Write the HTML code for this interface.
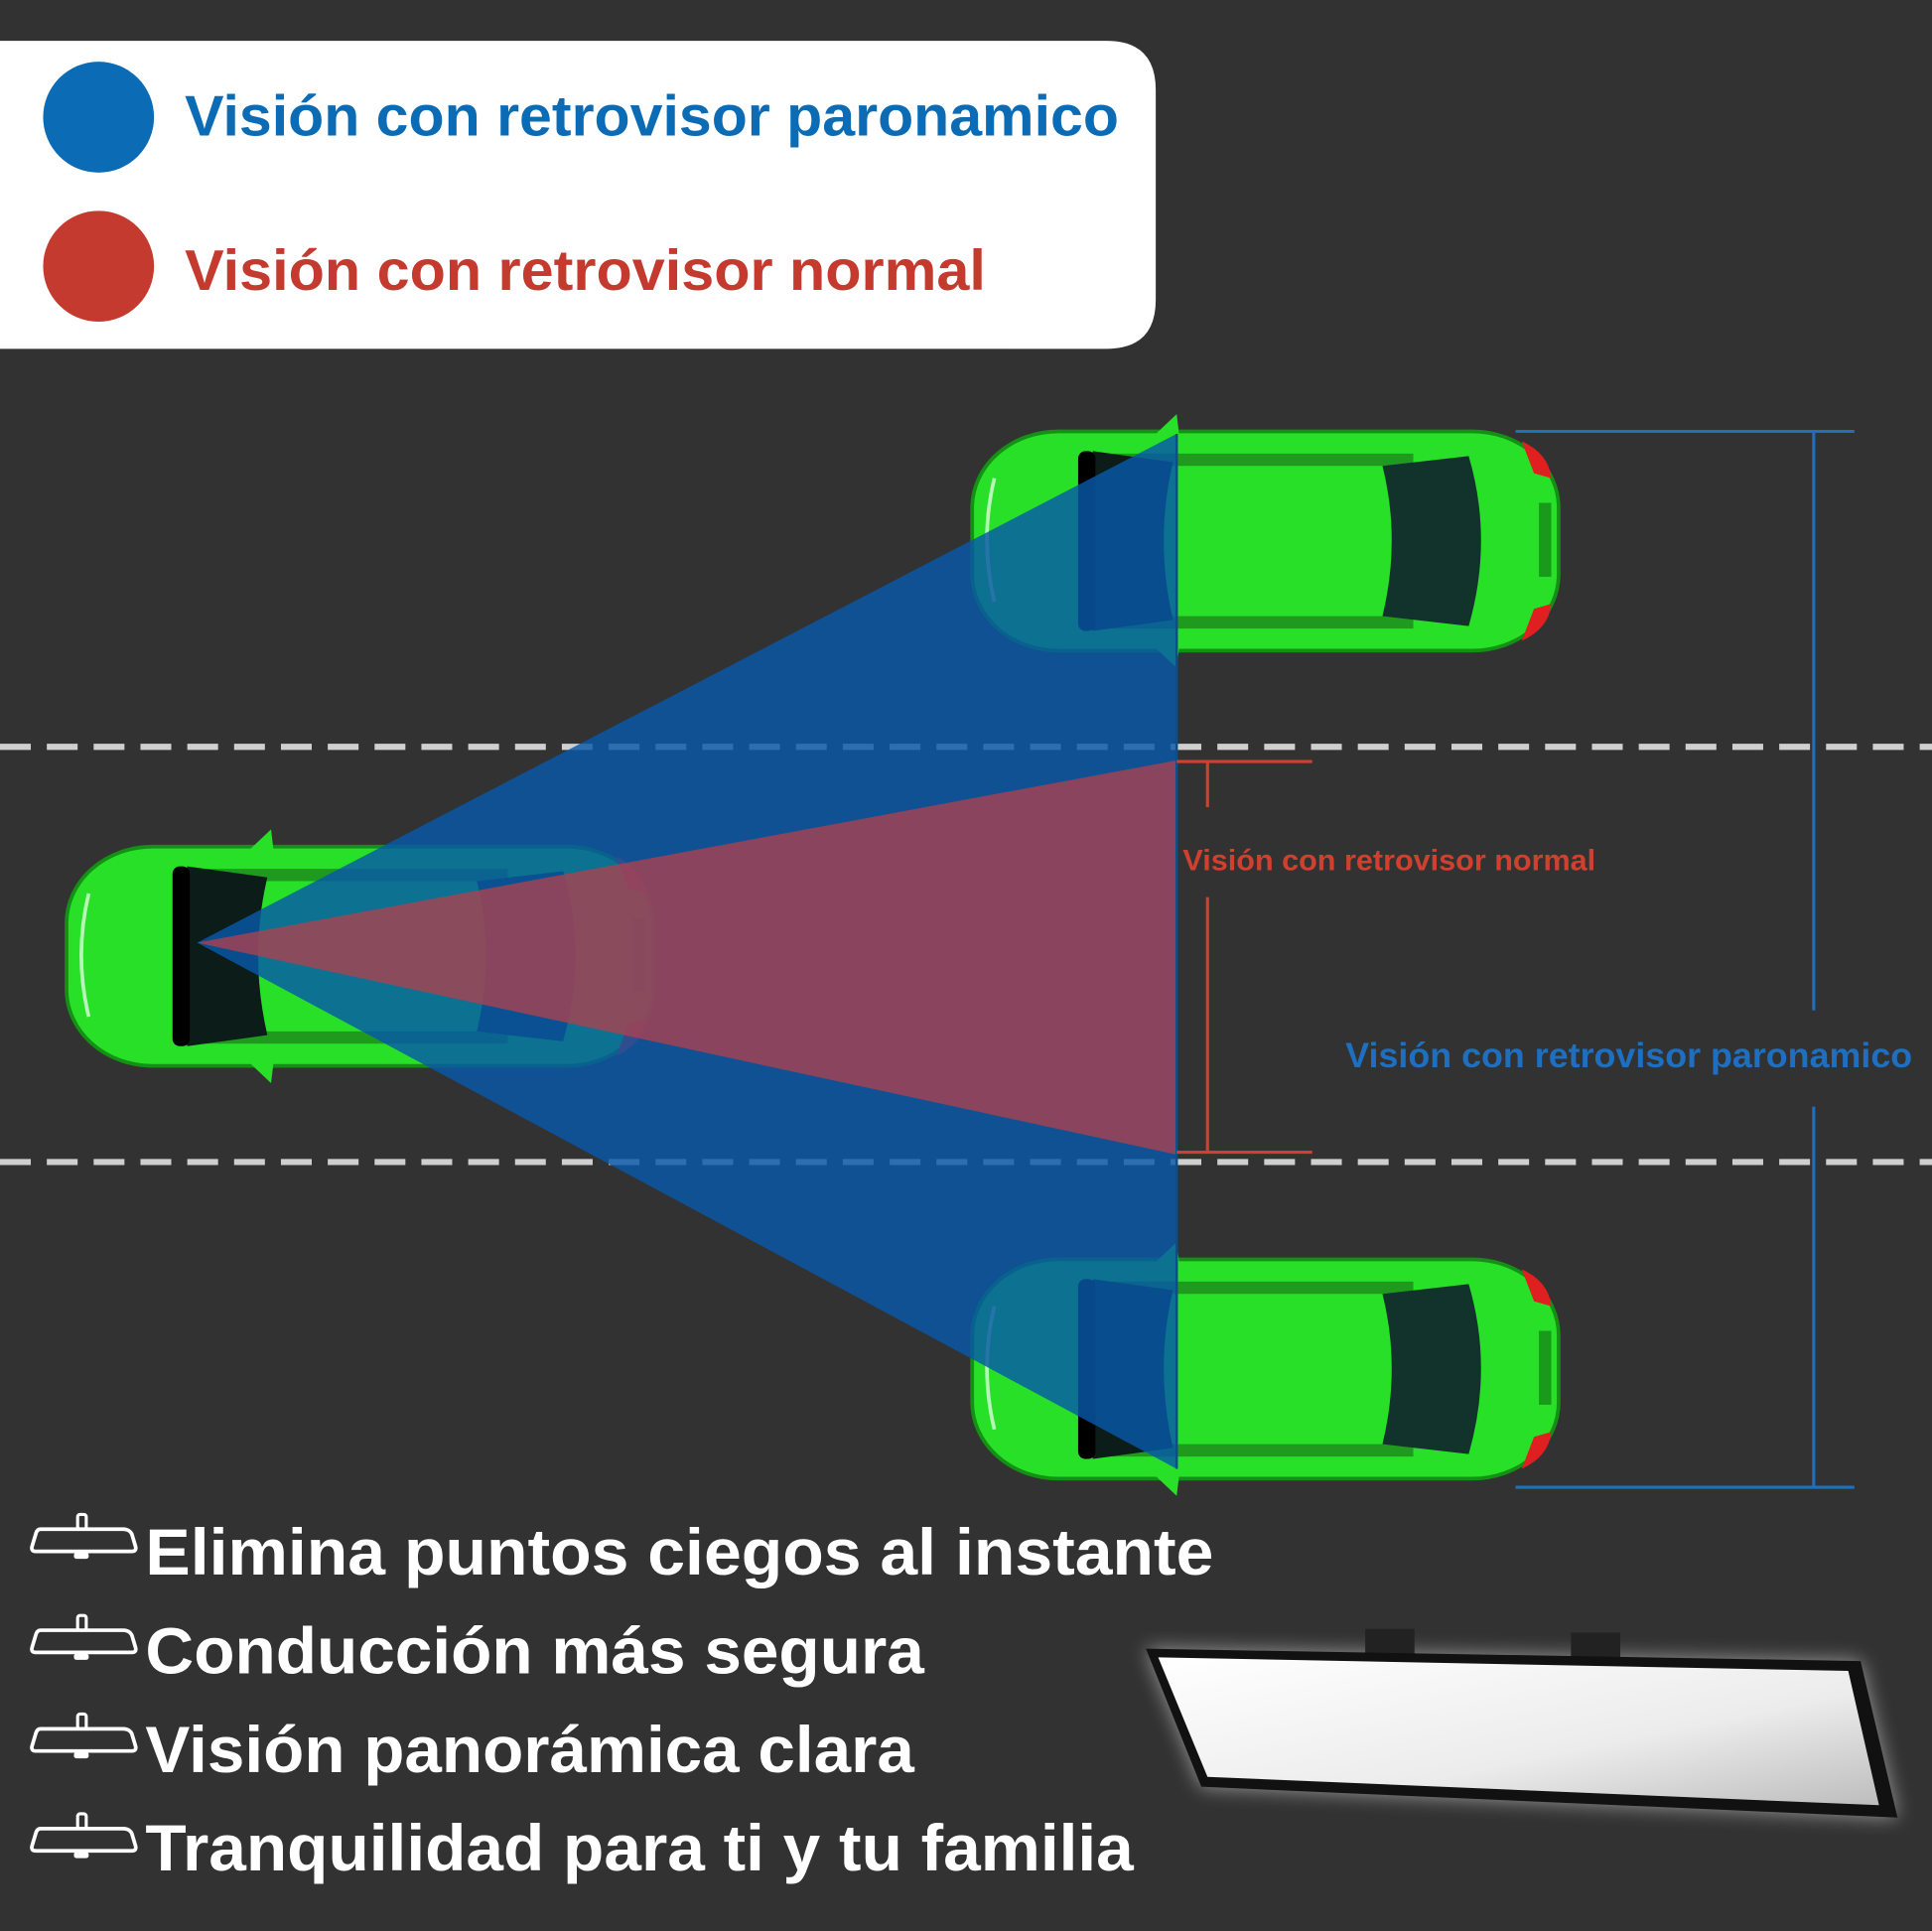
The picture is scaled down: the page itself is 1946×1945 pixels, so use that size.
<!DOCTYPE html>
<html><head><meta charset="utf-8"><style>
html,body{margin:0;padding:0;background:#323232;}
svg{display:block}
text{font-family:"Liberation Sans",sans-serif;font-weight:bold}
</style></head><body>
<svg width="1946" height="1945" viewBox="0 0 1568 1567" xmlns="http://www.w3.org/2000/svg">
<defs>
<g id="car">
  <rect x="2" y="2" width="476" height="178" rx="70" ry="62" fill="#27e027" stroke="#149014" stroke-width="3"/>
  <path d="M20,40 Q8,90 20,140" fill="none" stroke="#b8f5b8" stroke-width="3"/>
  <path d="M100,20 L360,20 L360,30 L100,30 Z" fill="#1a6a1a" opacity="0.6"/>
  <path d="M100,152 L360,152 L360,162 L100,162 Z" fill="#1a6a1a" opacity="0.6"/>
  <path d="M100,18 Q80,90 100,164 L165,155 Q150,90 165,27 Z" fill="#0c1c18"/>
  <rect x="88" y="18" width="14" height="146" rx="6" fill="#000"/>
  <path d="M335,30 Q350,90 335,152 L405,160 Q425,90 405,22 Z" fill="#12332c"/>
  <path d="M448,10 Q470,20 472,40 L458,36 Z" fill="#e02020"/>
  <path d="M448,172 Q470,162 472,142 L458,146 Z" fill="#e02020"/>
  <rect x="462" y="60" width="10" height="60" fill="#1a9a1a"/>
  <path d="M150,5 L168,-12 L170,5 Z" fill="#27e027"/>
  <path d="M150,177 L168,194 L170,177 Z" fill="#27e027"/>
</g>
<g id="icon">
  <rect x="38" y="0" width="7" height="12" rx="2" fill="none" stroke="#fff" stroke-width="2.5"/>
  <path d="M8,12 L75,12 Q80,12 82,16 L85,26 Q86,30 82,30 L4,30 Q0,30 1,26 L4,16 Q5,12 8,12 Z" fill="none" stroke="#fff" stroke-width="3"/>
  <rect x="35" y="31" width="12" height="5" rx="2" fill="#fff"/>
</g>
<linearGradient id="mg" x1="0" y1="0" x2="1" y2="1">
  <stop offset="0" stop-color="#ffffff"/><stop offset="0.6" stop-color="#ececec"/><stop offset="1" stop-color="#bdbdbd"/>
</linearGradient>
<filter id="glow"><feGaussianBlur stdDeviation="8"/></filter>
</defs>
<rect width="1568" height="1567" fill="#323232"/>
<!-- legend -->
<path d="M0,33 L898,33 Q938,33 938,73 L938,243 Q938,283 898,283 L0,283 Z" fill="#fff"/>
<circle cx="80" cy="95" r="45" fill="#0b6cb5"/>
<circle cx="80" cy="216" r="45" fill="#c43a2e"/>
<text x="150" y="110" font-size="46" fill="#0b6cb5" textLength="758" lengthAdjust="spacingAndGlyphs">Visión con retrovisor paronamico</text>
<text x="150" y="235" font-size="46" fill="#c43a2e" textLength="650" lengthAdjust="spacingAndGlyphs">Visión con retrovisor normal</text>
<!-- dashed lines -->
<line x1="0" y1="606" x2="1568" y2="606" stroke="#cfcfcf" stroke-width="5" stroke-dasharray="25 13"/>
<line x1="0" y1="943" x2="1568" y2="943" stroke="#cfcfcf" stroke-width="5" stroke-dasharray="25 13"/>
<!-- cars -->
<use href="#car" transform="translate(52,685)"/>
<use href="#car" transform="translate(787,348)"/>
<use href="#car" transform="translate(787,1020)"/>
<!-- cones -->
<polygon points="160,765 955,352 955,1192" fill="#0758a8" opacity="0.82"/>
<polygon points="160,765 955,617 955,937" fill="#b4404c" opacity="0.75"/>
<line x1="955" y1="352" x2="955" y2="1192" stroke="#0b4f8a" stroke-width="2"/>
<!-- red dimension -->
<g stroke="#d0402e" stroke-width="2.5">
<line x1="955" y1="618" x2="1065" y2="618"/><line x1="955" y1="935" x2="1065" y2="935"/>
<line x1="980" y1="618" x2="980" y2="655"/><line x1="980" y1="728" x2="980" y2="935"/>
</g>
<text x="960" y="706" font-size="24" fill="#d0402e" textLength="335" lengthAdjust="spacingAndGlyphs">Visión con retrovisor normal</text>
<!-- blue dimension -->
<g stroke="#1f6fc0" stroke-width="2.5">
<line x1="1230" y1="350" x2="1505" y2="350"/><line x1="1230" y1="1207" x2="1505" y2="1207"/>
<line x1="1472" y1="350" x2="1472" y2="820"/><line x1="1472" y1="898" x2="1472" y2="1207"/>
</g>
<text x="1092" y="866" font-size="28" fill="#1f6fc0" textLength="460" lengthAdjust="spacingAndGlyphs">Visión con retrovisor paronamico</text>
<!-- bullets -->
<use href="#icon" transform="translate(25,1229)"/>
<use href="#icon" transform="translate(25,1311)"/>
<use href="#icon" transform="translate(25,1391)"/>
<use href="#icon" transform="translate(25,1472)"/>
<g fill="#fff" font-size="53">
<text x="118" y="1278" textLength="867" lengthAdjust="spacingAndGlyphs">Elimina puntos ciegos al instante</text>
<text x="118" y="1358" textLength="632" lengthAdjust="spacingAndGlyphs">Conducción más segura</text>
<text x="118" y="1438" textLength="624" lengthAdjust="spacingAndGlyphs">Visión panorámica clara</text>
<text x="118" y="1518" textLength="802" lengthAdjust="spacingAndGlyphs">Tranquilidad para ti y tu familia</text>
</g>
<!-- mirror -->
<path d="M930,1338 L1510,1348 L1540,1475 L975,1450 Z" fill="#fff" opacity="0.5" filter="url(#glow)"/>
<rect x="1108" y="1322" width="40" height="20" fill="#222"/>
<rect x="1275" y="1325" width="40" height="20" fill="#222"/>
<path d="M930,1338 L1510,1348 L1540,1475 L975,1450 Z" fill="#111"/>
<path d="M940,1345 L1500,1356 L1525,1465 L980,1442 Z" fill="url(#mg)"/>
</svg>
</body></html>
